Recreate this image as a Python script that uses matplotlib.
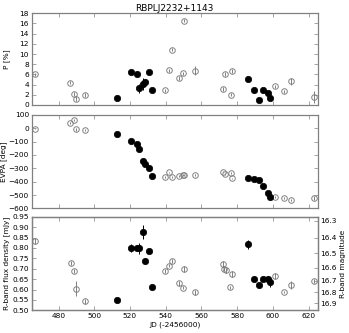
import matplotlib
matplotlib.use('Agg')
import matplotlib.pyplot as plt
import numpy as np

# polarimetry (P and EVPA share the same nights)
jd_pol_open = [466.6, 486.6, 488.7, 489.6, 494.7, 539.5, 541.6, 543.4, 547.4, 549.4,
               550.3, 556.5, 572.1, 573.2, 576.3, 577.3, 601.3, 606.1, 610.2, 623.0]
p_open = [6.0, 4.4, 2.1, 1.25, 2.0, 2.9, 6.8, 10.8, 5.35, 6.2,
          16.5, 6.7, 3.2, 6.1, 2.0, 6.6, 3.65, 2.7, 4.65, 1.55]
p_open_err = [0.3, 0.3, 0.4, 0.5, 0.4, 0.3, 0.3, 0.3, 0.4, 0.3,
              0.3, 0.9, 0.4, 0.4, 0.3, 0.4, 0.3, 0.3, 0.7, 1.1]
evpa_open = [-3, 38, 62, -7, -12, -365, -330, -365, -355, -350,
             -350, -348, -325, -340, -335, -375, -515, -523, -535, -523]
evpa_open_err = [6, 6, 6, 10, 6, 6, 5, 5, 6, 5,
                 5, 6, 6, 6, 6, 6, 6, 6, 6, 15]

jd_pol_fill = [512.7, 520.5, 523.7, 524.8, 527.2, 528.5, 530.6, 532.4,
               586.2, 589.2, 592.2, 594.4, 597.2, 598.1]
p_fill = [1.45, 6.4, 6.1, 3.3, 4.1, 4.45, 6.4, 2.9,
          5.15, 2.95, 1.05, 2.95, 2.3, 1.3]
p_fill_err = [0.3, 0.3, 0.3, 0.9, 1.2, 0.7, 0.3, 0.3,
              0.3, 0.3, 0.3, 0.3, 0.3, 0.3]
evpa_fill = [-43, -93, -120, -155, -248, -268, -295, -358,
             -370, -380, -390, -435, -488, -513]
evpa_fill_err = [4, 4, 4, 6, 6, 6, 4, 4, 4, 4, 4, 4, 5, 5]

# photometry
jd_phot_open = [466.6, 486.7, 488.8, 489.5, 494.7, 539.5, 541.6, 543.4, 547.4, 549.4,
                550.3, 556.5, 572.1, 572.8, 573.8, 576.2, 577.3, 601.3, 606.1, 610.2, 623.0]
flux_open = [0.832, 0.727, 0.690, 0.604, 0.543, 0.689, 0.715, 0.737, 0.631, 0.609,
             0.700, 0.588, 0.721, 0.699, 0.692, 0.610, 0.675, 0.665, 0.588, 0.622, 0.641]
flux_open_err = [0.015, 0.008, 0.008, 0.035, 0.012, 0.010, 0.008, 0.010, 0.012, 0.008,
                 0.015, 0.012, 0.015, 0.012, 0.012, 0.006, 0.015, 0.015, 0.006, 0.020, 0.008]

jd_phot_fill = [512.7, 520.5, 523.7, 524.8, 527.2, 528.5, 530.6, 532.4,
                586.2, 589.2, 592.2, 594.4, 597.2, 598.1]
flux_fill = [0.551, 0.800, 0.798, 0.798, 0.876, 0.736, 0.785, 0.613,
             0.817, 0.652, 0.623, 0.652, 0.652, 0.637]
flux_fill_err = [0.008, 0.020, 0.010, 0.025, 0.035, 0.008, 0.008, 0.008,
                 0.020, 0.008, 0.008, 0.008, 0.015, 0.025]

mag_ticks = [16.3, 16.4, 16.5, 16.6, 16.7, 16.8, 16.9]
F0_mjy = 3080e3  # R-band zero point

gray = '#808080'
fs = 5.3
plt.rcParams['font.size'] = fs

fig = plt.figure(figsize=(3.49, 3.33), dpi=100)
left, width = 0.091, 0.819
ax1 = fig.add_axes([left, 0.685, width, 0.275])
ax2 = fig.add_axes([left, 0.374, width, 0.281])
ax3 = fig.add_axes([left, 0.068, width, 0.281])


def draw(ax, jo, yo, eo, jf, yf, ef):
    ax.errorbar(jo, yo, yerr=eo, fmt='o', ms=4.0, mfc='none', mec=gray, mew=0.7,
                ecolor=gray, elinewidth=0.7, capsize=0, zorder=2)
    ax.errorbar(jf, yf, yerr=ef, fmt='o', ms=4.6, mfc='black', mec='black', mew=0.5,
                ecolor='black', elinewidth=0.7, capsize=0, zorder=3)


draw(ax1, jd_pol_open, p_open, p_open_err, jd_pol_fill, p_fill, p_fill_err)
draw(ax2, jd_pol_open, evpa_open, evpa_open_err, jd_pol_fill, evpa_fill, evpa_fill_err)
draw(ax3, jd_phot_open, flux_open, flux_open_err, jd_phot_fill, flux_fill, flux_fill_err)

for ax in (ax1, ax2, ax3):
    ax.set_xlim(465, 625)
    ax.set_xticks(np.arange(480, 621, 20))
    ax.tick_params(direction='in', top=True, right=True, length=3, width=0.5,
                   color=gray, pad=2, labelsize=fs)
    for s in ax.spines.values():
        s.set_color(gray)
        s.set_linewidth(0.9)

ax1.set_ylim(0, 18)
ax1.set_yticks(np.arange(0, 19, 2))
ax1.set_xticklabels([])
ax1.set_ylabel('P [%]', fontsize=fs, labelpad=7)
ax1.set_title('RBPLJ2232+1143', fontsize=6.5, pad=2)

ax2.set_ylim(-600, 100)
ax2.set_yticks(np.arange(-600, 101, 100))
ax2.set_xticklabels([])
ax2.set_ylabel('EVPA [deg]', fontsize=fs, labelpad=1)

ax3.set_ylim(0.50, 0.95)
ax3.set_yticks(np.arange(0.50, 0.951, 0.05))
ax3.set_yticklabels(['%.2f' % v for v in np.arange(0.50, 0.951, 0.05)])
ax3.set_ylabel('R-band flux density [mJy]', fontsize=fs, labelpad=2)
ax3.set_xlabel('JD (-2456000)', fontsize=fs, labelpad=2)
ax3.tick_params(right=False)

axr = ax3.twinx()
axr.set_ylim(0.50, 0.95)
axr.set_yticks([F0_mjy * 10 ** (-m / 2.5) for m in mag_ticks])
axr.set_yticklabels(['%.1f' % m for m in mag_ticks])
axr.tick_params(direction='in', length=3, width=0.5, color=gray, pad=2, labelsize=fs)
for s in axr.spines.values():
    s.set_color(gray)
    s.set_linewidth(0.9)
axr.set_ylabel('R-band magnitude', fontsize=fs, labelpad=2)

fig.savefig('out.png', dpi=100)
